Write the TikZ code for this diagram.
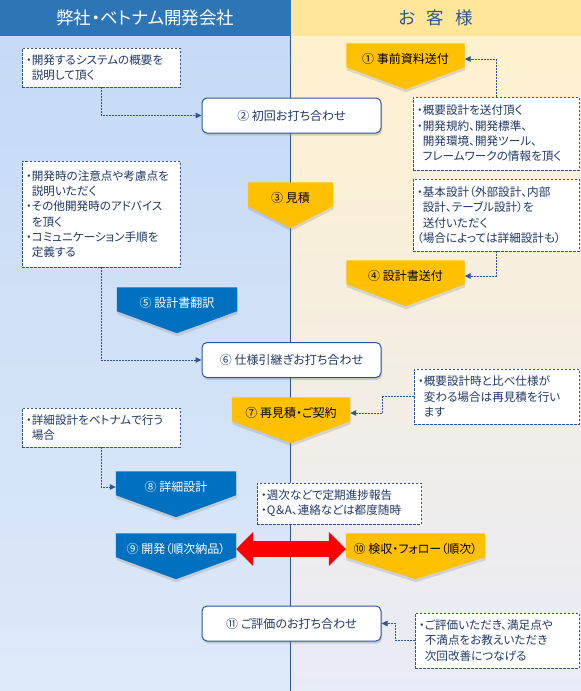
\documentclass[tikz,border=0pt]{standalone}
\usepackage{fontspec}
\setmainfont{Noto Sans CJK JP}[RawFeature=+palt]
\usetikzlibrary{arrows.meta,shadows}

\definecolor{hdrblue}{RGB}{46,117,182}
\definecolor{hdryellow}{RGB}{255,230,153}
\definecolor{navy}{RGB}{47,85,151}
\definecolor{notetext}{RGB}{32,56,100}
\definecolor{stepgold}{RGB}{255,192,0}
\definecolor{stepblue}{RGB}{0,112,192}
\definecolor{lefttop}{RGB}{197,218,245}
\definecolor{leftbot}{RGB}{222,233,249}
\definecolor{righttop}{RGB}{255,241,206}
\definecolor{rightbot}{RGB}{232,235,248}

\pgfdeclarelayer{back}
\pgfdeclarelayer{mid}
\pgfsetlayers{back,mid,main}

\tikzset{
  hdr/.style={minimum width=290.5pt, minimum height=36pt, inner sep=0pt, font=\fontsize{17.5}{20}\selectfont},
  stepnode/.style={minimum height=31pt, inner sep=0pt, font=\fontsize{12}{14}\selectfont},
  meetbox/.style={draw=navy, line width=1pt, fill=white, rounded corners=5pt, minimum width=179pt, minimum height=35pt,
    text=notetext, font=\fontsize{12}{14}\selectfont, drop shadow={opacity=0.3, shadow xshift=1pt, shadow yshift=-2.5pt}},
  notebox/.style={draw=navy, line width=0.8pt, dash pattern=on 2.5pt off 1.5pt, fill=white, inner xsep=4pt, inner ysep=2pt,
    align=left, text=notetext, font=\fontsize{11.6}{15.3}\selectfont},
  conn/.style={draw=navy, line width=0.8pt, dash pattern=on 2pt off 1pt, -{Triangle[length=6pt,width=5.5pt]}},
  bigarrow/.style={draw=red, line width=16pt, {Triangle[length=17pt,width=33pt]}-{Triangle[length=17pt,width=33pt]}},
  pentshadow/.style={drop shadow={opacity=0.25, shadow xshift=0.5pt, shadow yshift=-3pt}}
}

\newcommand{\ind}{\hphantom{・}}

\begin{document}
\begin{tikzpicture}[x=1pt,y=-1pt]
\useasboundingbox (0,0) rectangle (581,691);

% columns
\begin{pgfonlayer}{back}
  \shade[top color=lefttop, bottom color=leftbot] (0,36) rectangle (290.5,691);
  \shade[top color=righttop, bottom color=rightbot] (290.5,36) rectangle (581,691);
  \draw[navy, line width=0.8pt] (290.5,36) -- (290.5,691);
\end{pgfonlayer}

% headers
\node[hdr, fill=hdrblue, text=white] (hL) at (145.25,18) {弊社・ベトナム開発会社};
\node[hdr, fill=hdryellow, text=navy] (hR) at (435.75,18) {お\hspace{11pt}客\hspace{11pt}様};

% steps
\node[stepnode, minimum width=118pt] (s1) at (405.5,59) {① 事前資料送付};
\node[meetbox] (s2) at (291.5,115.5) {② 初回お打ち合わせ};
\node[stepnode, minimum width=85pt] (s3) at (290.5,198) {③ 見積};
\node[stepnode, minimum width=118pt] (s4) at (405.5,276) {④ 設計書送付};
\node[stepnode, minimum width=120pt, text=white] (s5) at (177,303) {⑤ 設計書翻訳};
\node[meetbox] (s6) at (291.5,360) {⑥ 仕様引継ぎお打ち合わせ};
\node[stepnode, minimum width=118pt] (s7) at (291,413) {⑦ 再見積・ご契約};
\node[stepnode, minimum width=120pt, text=white] (s8) at (176,487) {⑧ 詳細設計};
\node[stepnode, minimum width=120pt, text=white] (s9) at (176,549) {⑨ 開発（順次納品）};
\node[stepnode, minimum width=139pt] (s10) at (415.5,549) {⑩ 検収・フォロー（順次）};
\node[meetbox] (s11) at (291.5,623.5) {⑪ ご評価のお打ち合わせ};

% pentagons behind the step texts
\begin{pgfonlayer}{mid}
  \foreach \n/\c in {s1/stepgold, s3/stepgold, s4/stepgold, s5/stepblue, s7/stepgold, s8/stepblue, s9/stepblue, s10/stepgold}
    \fill[\c, pentshadow] (\n.north west) -- (\n.north east) -- ([yshift=7.5pt]\n.south east)
      -- ([yshift=-14.5pt]\n.south) -- ([yshift=7.5pt]\n.south west) -- cycle;
\end{pgfonlayer}

% notes
\node[notebox, text width=150pt, minimum height=39pt] (nA) at (101,67.5)
  {・開発するシステムの概要を\\\ind 説明して頂く};
\node[notebox, text width=158pt, minimum height=73pt] (nB) at (496,133.5)
  {・概要設計を送付頂く\\・開発規約、開発標準、\\\ind 開発環境、開発ツール、\\\ind フレームワークの情報を頂く};
\node[notebox, text width=150pt, minimum height=106pt] (nC) at (101,214)
  {・開発時の注意点や考慮点を\\\ind 説明いただく\\・その他開発時のアドバイス\\\ind を頂く\\・コミュニケーション手順を\\\ind 定義する};
\node[notebox, text width=158pt, minimum height=72pt] (nD) at (496,215)
  {・基本設計（外部設計、内部\\\ind 設計、テーブル設計）を\\\ind 送付いただく\\（場合によっては詳細設計も）};
\node[notebox, text width=157pt, minimum height=55pt] (nE) at (496.5,396.5)
  {・概要設計時と比べ仕様が\\\ind 変わる場合は再見積を行い\\\ind ます};
\node[notebox, text width=150pt, minimum height=39pt] (nF) at (101,427.5)
  {・詳細設計をベトナムで行う\\\ind 場合};
\node[notebox, text width=156pt, minimum height=41pt] (nG) at (339,503.5)
  {・週次などで定期進捗報告\\・Q＆A、連絡などは都度随時};
\node[notebox, text width=156pt, minimum height=55pt] (nH) at (497,640.5)
  {・ご評価いただき、満足点や\\\ind 不満点をお教えいただき\\\ind 次回改善につなげる};

% connectors
\draw[conn] (nA.south) |- (s2.west);
\draw[conn] (nB.north) |- (s1.east);
\draw[conn] (nD.south) |- (s4.east);
\draw[conn] (nC.south) |- (s6.west);
\draw[conn] (nE.west) -- ++(-31,0) |- (s7.east);
\draw[conn] (nF.south) |- (s8.west);
\draw[conn] (nH.west) -- ++(-19,0) |- (s11.east);
\draw[bigarrow] (s9.east) -- (s10.west);
\end{tikzpicture}
\end{document}
